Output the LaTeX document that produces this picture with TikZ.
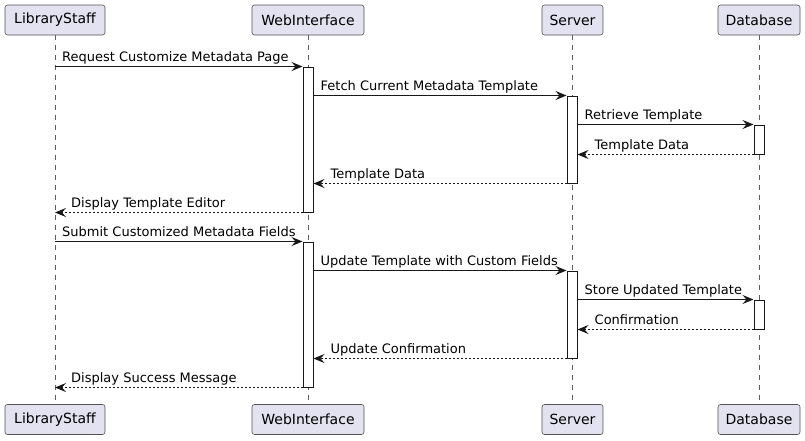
\documentclass[tikz,border=0pt]{standalone}
\usepackage{fontspec}
\setmainfont{DejaVu Sans}
\usetikzlibrary{arrows.meta}
\definecolor{pfill}{HTML}{E2E2F0}
\definecolor{ink}{HTML}{181818}
\tikzset{
  part/.style={draw=ink!75, line width=0.6pt, fill=pfill, rounded corners=2.5pt, minimum height=30pt, inner sep=0pt, font=\fontsize{14}{16}\selectfont},
  life/.style={draw=ink!70, line width=0.6pt, dash pattern=on 5pt off 5pt},
  actbar/.style={draw=ink, fill=white, line width=1pt, minimum width=10pt, inner sep=0pt},
  msg/.style={draw=ink, line width=1pt, -{Stealth[length=11pt,width=9pt,inset=4pt]}},
  ret/.style={msg, dash pattern=on 2pt off 2pt},
  lbl/.style={inner sep=0pt, anchor=base west, font=\fontsize{13}{15}\selectfont, text=black},
}
\begin{document}
\begin{tikzpicture}[x=1pt,y=-1pt]
\useasboundingbox (0,0) rectangle (805,440);
% participants
\node[part, minimum width=100pt] (lsT) at (55,20) {LibraryStaff};
\node[part, minimum width=112pt] (wiT) at (308,20) {WebInterface};
\node[part, minimum width=61pt] (svT) at (572.5,20) {Server};
\node[part, minimum width=82pt] (dbT) at (759,20) {Database};
\node[part, minimum width=100pt] (lsB) at (55,419.5) {LibraryStaff};
\node[part, minimum width=112pt] (wiB) at (308,419.5) {WebInterface};
\node[part, minimum width=61pt] (svB) at (572.5,419.5) {Server};
\node[part, minimum width=82pt] (dbB) at (759,419.5) {Database};
% lifelines
\draw[life] (lsT) -- (lsB);
\draw[life] (wiT) -- (wiB);
\draw[life] (svT) -- (svB);
\draw[life] (dbT) -- (dbB);
% activation bars
\node[actbar, minimum height=145pt] (wa1) at (308,139.5) {};
\node[actbar, minimum height=87pt] (sa1) at (572,139.5) {};
\node[actbar, minimum height=29pt] (da1) at (759,139.5) {};
\node[actbar, minimum height=145pt] (wa2) at (308,314.5) {};
\node[actbar, minimum height=87pt] (sa2) at (572,314.5) {};
\node[actbar, minimum height=29pt] (da2) at (759,314.5) {};
% first round
\coordinate (m1s) at (wa1.north west -| lsT);
\draw[msg] (m1s) -- (wa1.north west);
\node[lbl] (l1) at ([shift={(7,-5)}]m1s) {Request Customize Metadata Page};
\coordinate (m2s) at (sa1.north west -| wa1.east);
\draw[msg] (m2s) -- (sa1.north west);
\node[lbl] (l2) at ([shift={(7,-5)}]m2s) {Fetch Current Metadata Template};
\coordinate (m3s) at (da1.north west -| sa1.east);
\draw[msg] (m3s) -- (da1.north west);
\node[lbl] (l3) at ([shift={(7,-5)}]m3s) {Retrieve Template};
\coordinate (m4e) at (da1.south west -| sa1.east);
\draw[ret] (da1.south west) -- (m4e);
\node[lbl] (l4) at ([shift={(17,-5)}]m4e) {Template Data};
\coordinate (m5e) at (sa1.south west -| wa1.east);
\draw[ret] (sa1.south west) -- (m5e);
\node[lbl] (l5) at ([shift={(17,-5)}]m5e) {Template Data};
\coordinate (m6e) at (wa1.south west -| lsT);
\draw[ret] (wa1.south west) -- (m6e);
\node[lbl] (l6) at ([shift={(16,-5)}]m6e) {Display Template Editor};
% second round
\coordinate (n1s) at (wa2.north west -| lsT);
\draw[msg] (n1s) -- (wa2.north west);
\node[lbl] (k1) at ([shift={(7,-5)}]n1s) {Submit Customized Metadata Fields};
\coordinate (n2s) at (sa2.north west -| wa2.east);
\draw[msg] (n2s) -- (sa2.north west);
\node[lbl] (k2) at ([shift={(7,-5)}]n2s) {Update Template with Custom Fields};
\coordinate (n3s) at (da2.north west -| sa2.east);
\draw[msg] (n3s) -- (da2.north west);
\node[lbl] (k3) at ([shift={(7,-5)}]n3s) {Store Updated Template};
\coordinate (n4e) at (da2.south west -| sa2.east);
\draw[ret] (da2.south west) -- (n4e);
\node[lbl] (k4) at ([shift={(17,-5)}]n4e) {Confirmation};
\coordinate (n5e) at (sa2.south west -| wa2.east);
\draw[ret] (sa2.south west) -- (n5e);
\node[lbl] (k5) at ([shift={(17,-5)}]n5e) {Update Confirmation};
\coordinate (n6e) at (wa2.south west -| lsB);
\draw[ret] (wa2.south west) -- (n6e);
\node[lbl] (k6) at ([shift={(16,-5)}]n6e) {Display Success Message};
\end{tikzpicture}
\end{document}
